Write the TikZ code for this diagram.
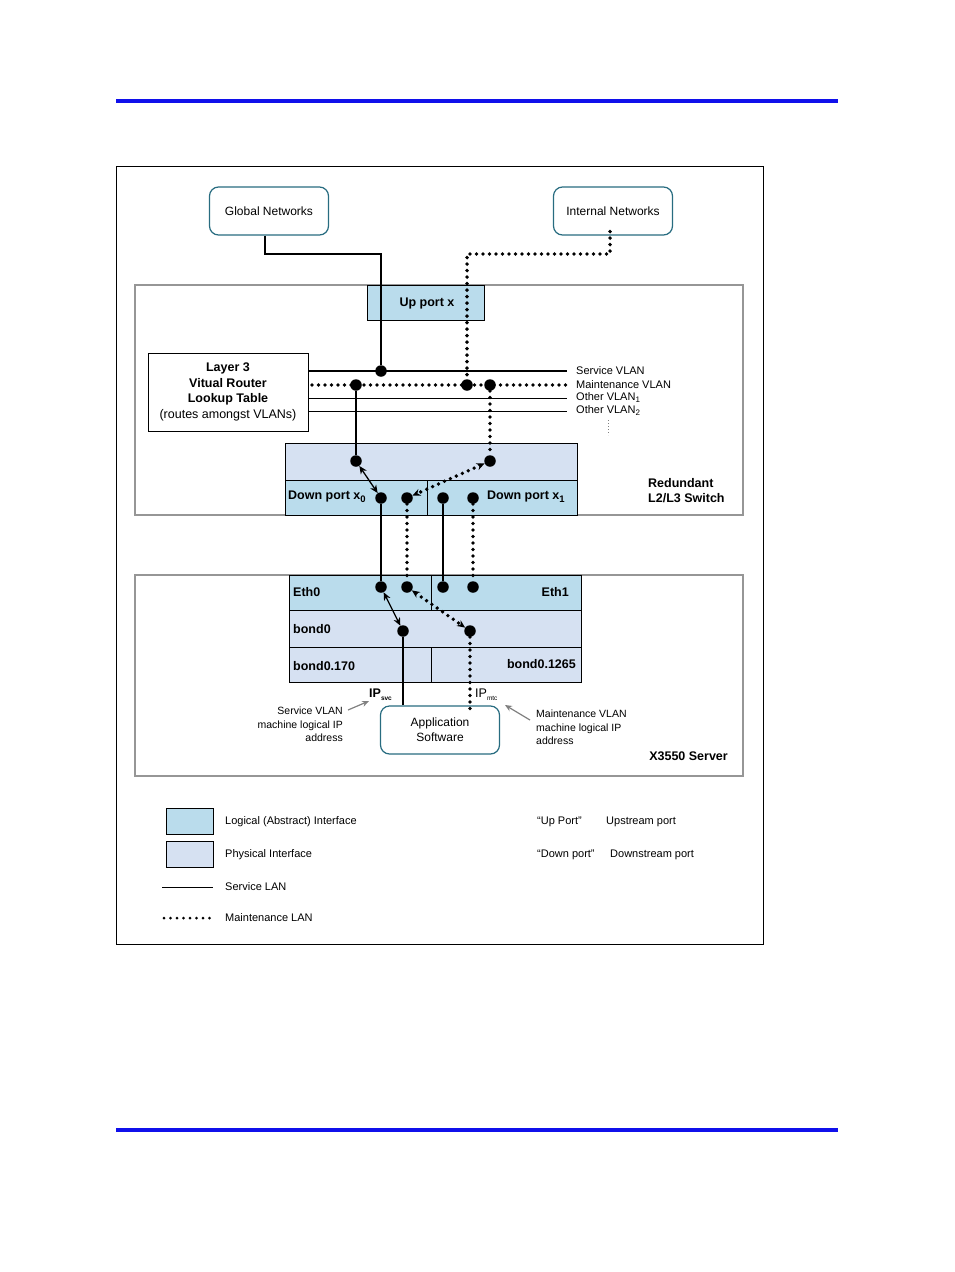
\documentclass[tikz,border=0pt]{standalone}
\usepackage{fontspec}
\setmainfont{Liberation Sans}
\usetikzlibrary{arrows.meta,positioning,calc}
\definecolor{logicblue}{RGB}{186,220,236}
\definecolor{physblue}{RGB}{214,225,242}
\definecolor{tealedge}{RGB}{40,108,128}
\definecolor{framegray}{RGB}{150,150,150}
\definecolor{rulecol}{RGB}{16,16,235}
\tikzset{
  netbox/.style={draw=tealedge,line width=1.2pt,rounded corners=9pt,
    minimum width=119pt,minimum height=48pt,align=center,
    font=\fontsize{12}{15}\selectfont},
  portdot/.style={circle,fill=black,inner sep=0pt,minimum size=11.5pt},
  svcline/.style={line width=1.3pt},
  mtcline/.style={line width=3.8pt,dash pattern=on 0pt off 6.5pt,line cap=round},
  dblarrow/.style={{Stealth[length=8pt,width=7pt]}-{Stealth[length=8pt,width=7pt]}},
  swframe/.style={draw=framegray,line width=2.5pt},
  lbl/.style={anchor=west,inner sep=0pt,font=\fontsize{11}{13}\selectfont},
  blbl/.style={anchor=west,inner sep=0pt,font=\fontsize{12.5}{15}\bfseries},
  note/.style={inner sep=0pt,font=\fontsize{10.5}{13.5}\selectfont}
}
\newcommand{\ipsub}[1]{\raisebox{-3pt}{\fontsize{6.5}{7}\selectfont #1}}
\newcommand{\portsub}[1]{\raisebox{-3pt}{\fontsize{9.5}{10}\bfseries #1}}
\begin{document}
\begin{tikzpicture}[x=1pt,y=-1pt]
\useasboundingbox (0,0) rectangle (954,1272);
% page rules and frame
\draw[rulecol,line width=3.5pt] (116,101) -- (838,101);
\draw[rulecol,line width=3.5pt] (116,1130) -- (838,1130);
\draw[line width=1pt] (116,166) rectangle (763,944);

% networks
\node[netbox] (glob) at (269,211) {Global Networks};
\node[netbox] (intnet) at (613,211) {Internal Networks};

% switch
\draw[swframe] (135,285) rectangle (743,515);
\draw[line width=1pt,fill=logicblue] (367,285) rectangle (484,320);
\node[blbl,anchor=center] (upport) at (427,303) {Up port x};
\node[draw,line width=1pt,fill=white,minimum width=160pt,minimum height=78pt,
  align=center,font=\fontsize{12.5}{15.5}\selectfont] (l3) at (228,392)
  {\textbf{Layer 3}\\\textbf{Vitual Router}\\\textbf{Lookup Table}\\(routes amongst VLANs)};

% VLAN buses
\coordinate (svEnd) at (567,371);
\coordinate (mtEnd) at (567,385);
\coordinate (o1End) at (567,398);
\coordinate (o2End) at (567,411);
\draw[svcline] (308,371) -- (svEnd);
\draw[mtcline] (312,385) -- (mtEnd);
\draw[line width=0.8pt] (308,398) -- (o1End);
\draw[line width=0.8pt] (308,411) -- (o2End);
\node[lbl] (svlab) at (576,371) {Service VLAN};
\node[lbl] (mtlab) at (576,385) {Maintenance VLAN};
\node[lbl] (o1lab) at (576,398) {Other VLAN\raisebox{-2pt}{\fontsize{8}{9}\selectfont 1}};
\node[lbl] (o2lab) at (576,411) {Other VLAN\raisebox{-2pt}{\fontsize{8}{9}\selectfont 2}};
\draw[gray,line width=0.8pt,dash pattern=on 1pt off 2pt] (608,420) -- (608,435);

% switch ports
\draw[line width=1pt,fill=physblue] (285,443) rectangle (577,480);
\draw[line width=1pt,fill=logicblue] (285,480) rectangle (577,515);
\draw[line width=1pt] (427,480) -- (427,515);
\node[blbl] (dp0) at (288,497) {Down port x\portsub{0}};
\node[blbl] (dp1) at (487,497) {Down port x\portsub{1}};
\node[blbl,align=left] (swname) at (648,491) {Redundant\\L2/L3 Switch};

\node[portdot] (svTap) at (381,371) {};
\node[portdot] (mtTap0) at (356,385) {};
\node[portdot] (mtTap) at (467,385) {};
\node[portdot] (mtTap1) at (490,385) {};
\node[portdot] (swA) at (356,461) {};
\node[portdot] (swB) at (490,461) {};
\node[portdot] (dA) at (381,498) {};
\node[portdot] (dB) at (407,498) {};
\node[portdot] (dC) at (443,498) {};
\node[portdot] (dD) at (473,498) {};

\coordinate (gBend) at (381,254);
\coordinate (iBend) at (467,254);
\draw[svcline] (glob.south) ++(-4,0) |- (gBend) -- (svTap);
\draw[mtcline] ([xshift=-3pt,yshift=4pt]intnet.south) |- (iBend) -- (mtTap);
\draw[svcline] (mtTap0) -- (swA);
\draw[mtcline] (mtTap1) -- (swB);
\draw[svcline,dblarrow] (swA) -- (dA);
\draw[mtcline,dblarrow] (swB) -- (dB);

% server
\draw[swframe] (135,575) rectangle (743,776);
\draw[line width=1pt,fill=logicblue] (289,575) rectangle (581,610);
\draw[line width=1pt] (431,575) -- (431,610);
\draw[line width=1pt,fill=physblue] (289,610) rectangle (581,647);
\draw[line width=1pt,fill=physblue] (289,647) rectangle (581,682);
\draw[line width=1pt] (431,647) -- (431,682);
\node[blbl] (eth0) at (293,592) {Eth0};
\node[blbl,anchor=east] (eth1) at (569,592) {Eth1};
\node[blbl] (bond) at (293,629) {bond0};
\node[blbl] (bsvc) at (293,666) {bond0.170};
\node[blbl,anchor=east] (bmtc) at (576,664) {bond0.1265};
\node[blbl,anchor=east,align=right] (srvname) at (728,756) {X3550 Server};

\node[portdot] (eA) at (381,587) {};
\node[portdot] (eB) at (407,587) {};
\node[portdot] (eC) at (443,587) {};
\node[portdot] (eD) at (473,587) {};
\node[portdot] (bA) at (403,631) {};
\node[portdot] (bB) at (470,631) {};

\draw[svcline] (dA) -- (eA);
\draw[mtcline] (dB) -- (eB);
\draw[svcline] (dC) -- (eC);
\draw[mtcline] (dD) -- (eD);
\draw[svcline,dblarrow] (eA) -- (bA);
\draw[mtcline,dblarrow] (eB) -- (bB);

\node[netbox] (app) at (440,730) {Application\\Software};
\draw[svcline] (bA) -- (bA |- app.north);
\draw[mtcline] (bB) -- ([yshift=-4pt]bB |- app.north);

\node[inner sep=0pt,anchor=west] (ipsvc) at (369,695) {\fontsize{12.5}{14}\bfseries IP\ipsub{svc}};
\node[inner sep=0pt,anchor=west] (ipmtc) at (475,695) {\fontsize{12.5}{14}\selectfont IP\ipsub{mtc}};
\node[note,anchor=north east,align=right] (svnote) at (343,707)
  {Service VLAN\\machine logical IP\\address};
\node[note,anchor=north west,align=left] (mtnote) at (536,710)
  {Maintenance VLAN\\machine logical IP\\address};
\draw[gray,line width=1.2pt,-{Stealth[length=7pt,width=6pt]}] (348,710) -- (ipsvc.south west);
\draw[gray,line width=1.2pt,-{Stealth[length=7pt,width=6pt]}] (530,720) -- (505,705);

% legend
\draw[line width=1pt,fill=logicblue] (166,808) rectangle (213,834);
\draw[line width=1pt,fill=physblue] (166,841) rectangle (213,867);
\draw[line width=0.9pt] (162,887) -- (213,887);
\draw[line width=3pt,dash pattern=on 0pt off 6.5pt,line cap=round] (164,918) -- (210,918);
\node[lbl] (lgLog) at (225,822) {Logical (Abstract) Interface};
\node[lbl] (lgPhy) at (225,855) {Physical Interface};
\node[lbl] (lgSvc) at (225,887) {Service LAN};
\node[lbl] (lgMtc) at (225,918) {Maintenance LAN};
\node[lbl] (lgUp) at (537,822) {“Up Port”};
\node[lbl] (lgUpD) at (606,822) {Upstream port};
\node[lbl] (lgDn) at (537,855) {“Down port”};
\node[lbl] (lgDnD) at (610,855) {Downstream port};
\end{tikzpicture}
\end{document}
